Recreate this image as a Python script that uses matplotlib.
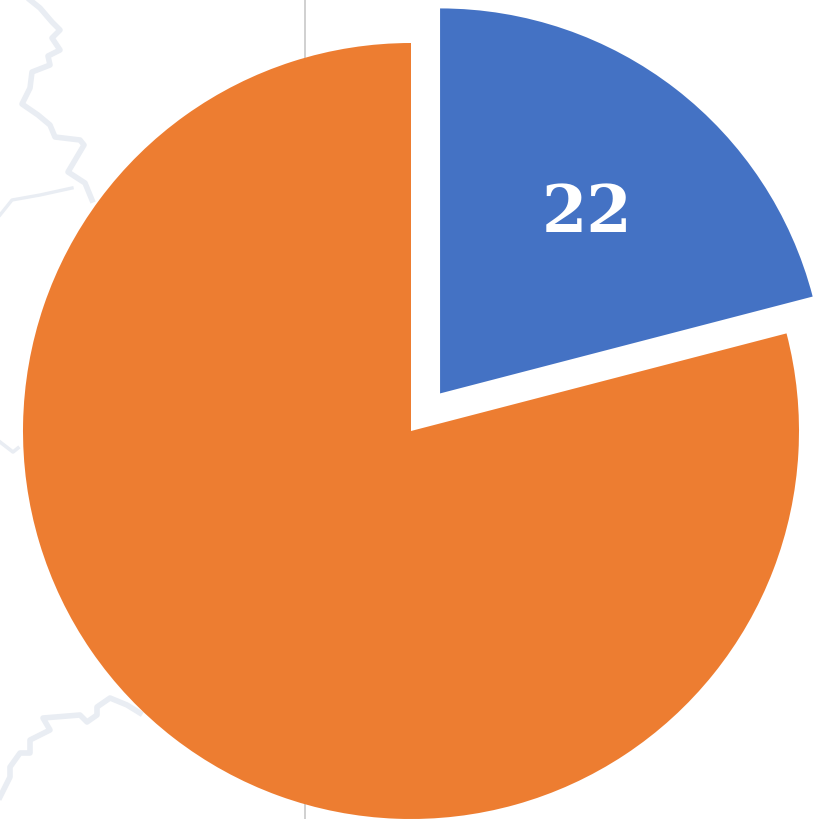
import matplotlib
matplotlib.use('Agg')
import matplotlib.pyplot as plt

values = [22, 83]
labels = ['22', '']
colors = ['#4472C4', '#ED7D31']

# faint map outline behind the pie (pixels of the picture, y going down)
river_x = [30, 40, 52, 60, 52, 60, 48, 50, 32, 30, 22, 38, 50, 55, 80, 84, 68, 85, 92]
river_y = [0, 8, 22, 30, 38, 50, 56, 65, 72, 88, 104, 115, 125, 137, 140, 145, 172, 183, 200]
branch_x = [72, 40, 12, 0]
branch_y = [188, 195, 200, 215]
south_x = [0, 10, 10, 20, 30, 30, 50, 43, 80, 87, 97, 97, 110, 127, 140]
south_y = [797, 777, 767, 753, 753, 740, 730, 718, 715, 722, 715, 707, 698, 705, 713]
stub_x = [0, 13, 18]
stub_y = [442, 452, 448]

W = 823
H = 819

fig = plt.figure(figsize=(W/100, H/100), dpi=100)
ax = fig.add_axes([0, 0, 1, 1])

lab = iter(labels)
wedges, texts, autotexts = ax.pie(values, colors=colors, startangle=90, counterclock=False,
                                  explode=[47.5, 0], center=(411, H-431), radius=388,
                                  autopct=lambda p: next(lab), pctdistance=0.607,
                                  textprops={'color': 'white', 'family': 'DejaVu Serif',
                                             'fontsize': 47, 'weight': 'bold'})
wedges[0].set_radius(385)
tx, ty = autotexts[0].get_position()
autotexts[0].set_position((tx+3, ty-7))

for xs, ys, lw in [(river_x, river_y, 4), (branch_x, branch_y, 2.4),
                   (south_x, south_y, 4), (stub_x, stub_y, 2.6)]:
    ax.plot(xs, [H-y for y in ys], color='#E9EDF3', lw=lw, zorder=0.5, solid_joinstyle='round')
ax.axvline(305, color='#C8C8C8', lw=1.2, zorder=0.4)

ax.set_xlim(0, W)
ax.set_ylim(0, H)
ax.set_aspect('equal')
ax.axis('off')

plt.savefig('out.png', dpi=100)
